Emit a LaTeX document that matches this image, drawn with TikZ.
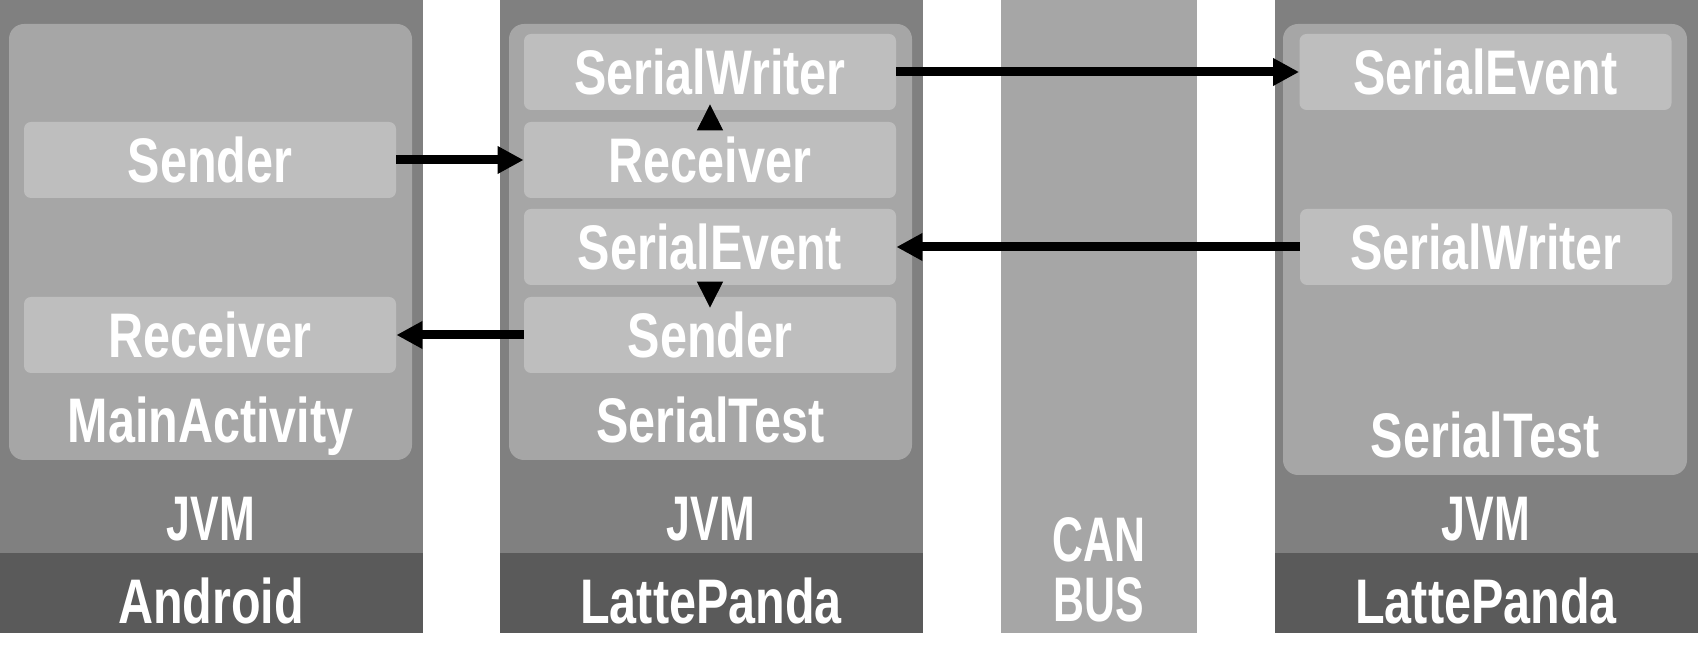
\documentclass[tikz,border=0pt]{standalone}
\usepackage{fontspec}
\newfontfamily\labfont{Liberation Sans}[FakeStretch=0.77]
\newfontfamily\capfont{Liberation Sans}[FakeStretch=0.68]
\usetikzlibrary{arrows.meta}
\definecolor{outerc}{HTML}{808080}
\definecolor{bandc}{HTML}{5A5A5A}
\definecolor{innerc}{HTML}{A6A6A6}
\definecolor{boxc}{HTML}{BEBEBE}
\tikzset{
  lab/.style={text=white, inner sep=0pt, anchor=base, font=\labfont\bfseries\fontsize{31.5}{31.5}\selectfont},
  caplab/.style={lab, font=\capfont\bfseries\fontsize{31.5}{31.5}\selectfont},
  sbox/.style={fill=boxc, rounded corners=3.5pt, minimum width=186pt, minimum height=38pt,
    inner sep=0pt, text=white, text height=22.5pt, text depth=0pt,
    font=\labfont\bfseries\fontsize{31.5}{31.5}\selectfont},
  arr/.style={line width=4.5pt, -{Triangle[length=13pt,width=13pt]}},
  tri/.style={line width=0.5pt, -{Triangle[length=13pt,width=13pt]}}
}
\begin{document}
\begin{tikzpicture}[x=0.5pt, y=-0.5pt]
\useasboundingbox (0,0) rectangle (1698,656);
\fill[white] (0,0) rectangle (1698,656);
% columns
\fill[outerc] (0,0) rectangle (423,633);
\fill[bandc] (0,553) rectangle (423,633);
\fill[outerc] (500,0) rectangle (923,633);
\fill[bandc] (500,553) rectangle (923,633);
\fill[innerc] (1001,0) rectangle (1197,633);
\fill[outerc] (1275,0) rectangle (1698,633);
\fill[bandc] (1275,553) rectangle (1698,633);
% inner rounded boxes
\fill[innerc, rounded corners=7.5pt] (9,24) rectangle (412,460);
\fill[innerc, rounded corners=7.5pt] (509,24) rectangle (912,460);
\fill[innerc, rounded corners=7.5pt] (1283,24) rectangle (1687,475);
% small boxes
\node[sbox] (c1s) at (210,160) {Sender};
\node[sbox] (c1r) at (210,335) {Receiver};
\node[sbox] (c2w) at (710,72) {SerialWriter};
\node[sbox] (c2r) at (710,160) {Receiver};
\node[sbox] (c2e) at (710,247) {SerialEvent};
\node[sbox] (c2s) at (710,335) {Sender};
\node[sbox] (c4e) at (1485.5,72) {SerialEvent};
\node[sbox] (c4w) at (1486,247) {SerialWriter};
% labels
\node[lab] (ma) at (210.5,443) {MainActivity};
\node[lab] (st2) at (710.5,443) {SerialTest};
\node[lab] (st4) at (1485,458) {SerialTest};
\node[caplab] (j1) at (211,541) {JVM};
\node[caplab] (j2) at (711,541) {JVM};
\node[caplab] (j4) at (1486,541) {JVM};
\node[lab] (an) at (211,624) {Android};
\node[lab] (lp2) at (711,624) {LattePanda};
\node[lab] (lp4) at (1486,624) {LattePanda};
\node[caplab] (can) at (1099,562) {CAN};
\node[caplab] (bus) at (1099,622) {BUS};
% arrows
\draw[arr] (c1s.east) -- (c2r.west);
\draw[arr] (c2s.west) -- (c1r.east);
\draw[arr] (c2w.east) -- (c4e.west);
\draw[arr] (c4w.west) -- (c2e.east);
\draw[tri, shorten >=-3pt] (c2r.north) -- (c2w.south);
\draw[tri, shorten >=-5.5pt] (c2e.south) -- (c2s.north);
\end{tikzpicture}
\end{document}
